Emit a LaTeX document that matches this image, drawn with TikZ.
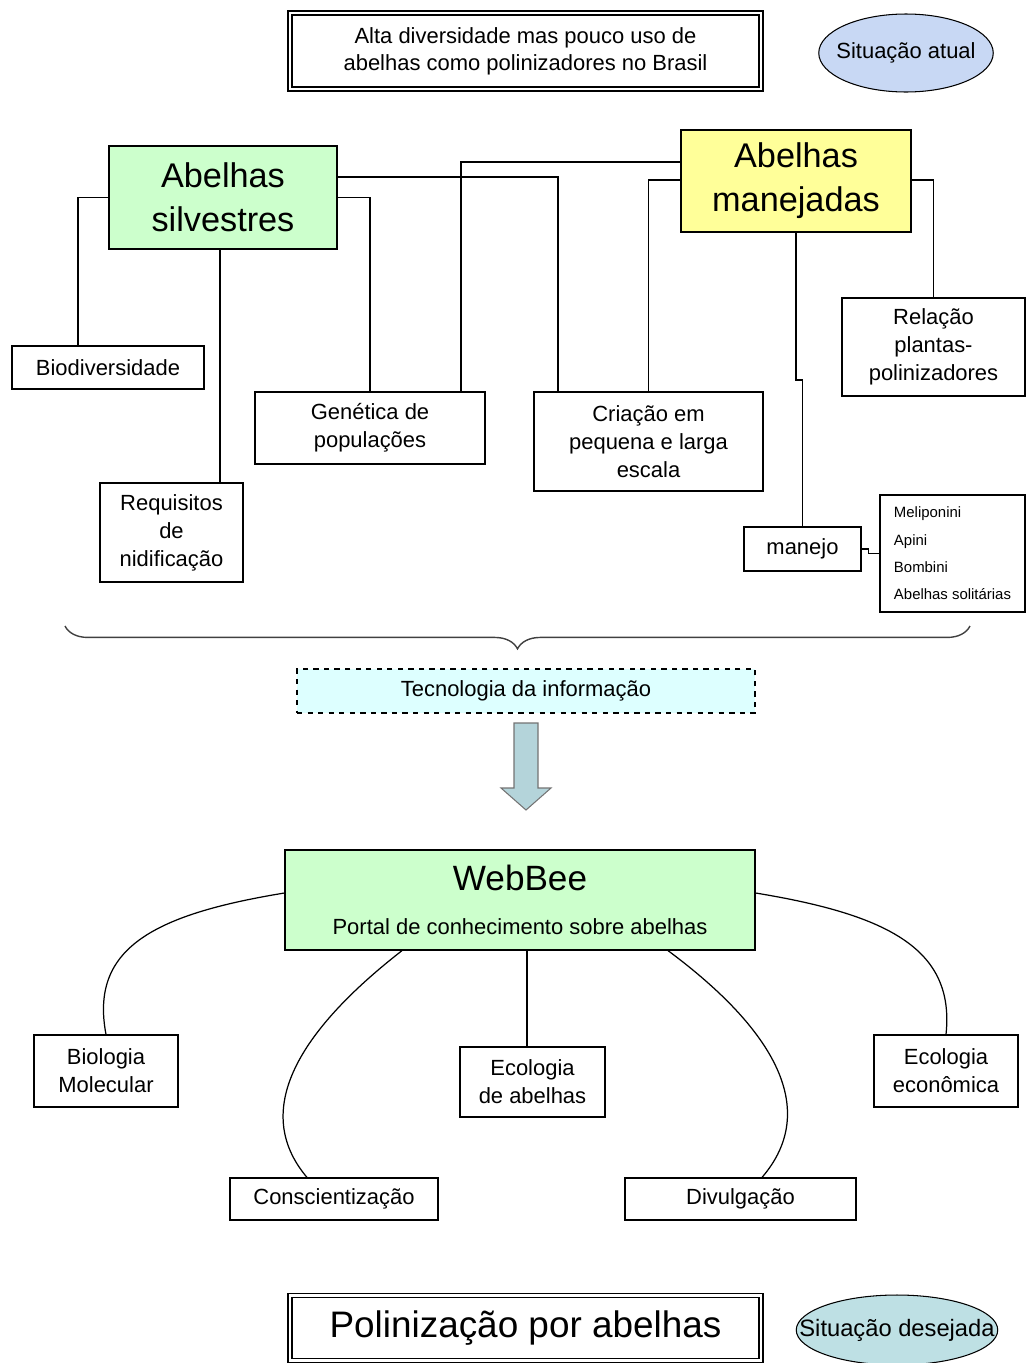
\documentclass[tikz,border=0pt]{standalone}
\usepackage{fontspec}
\setmainfont{Liberation Sans}
\usetikzlibrary{shapes.geometric, decorations.pathreplacing}

\definecolor{wildgreen}{HTML}{CCFFCC}
\definecolor{keptyellow}{HTML}{FFFF99}
\definecolor{techcyan}{HTML}{DDFFFF}
\definecolor{nowblue}{HTML}{C8D8F4}
\definecolor{goalteal}{HTML}{BEE0E4}
\definecolor{arrowteal}{HTML}{B4D4DA}

\begin{document}
\begin{tikzpicture}[x=0.02cm, y=-0.02cm,
  box/.style={draw, line width=0.7pt, fill=white, align=center, inner sep=0pt,
    font=\fontsize{12.5}{16}\selectfont},
  bigbox/.style={box, font=\fontsize{19.5}{25}\selectfont},
  dbox/.style={draw, double, line width=0.9pt, double distance=1.4pt, align=center,
    inner sep=0pt},
  oval/.style={ellipse, draw, line width=0.6pt, inner ysep=0pt,
    font=\fontsize{12.5}{15}\selectfont},
  link/.style={line width=0.7pt}]
  \useasboundingbox (0,0) rectangle (1026,1363);

  % Situation now
  \node[dbox, minimum width=9.42cm, minimum height=1.52cm,
    font=\fontsize{12.5}{15.5}\selectfont] (now) at (525.5,51)
    {Alta diversidade mas pouco uso de\\abelhas como polinizadores no Brasil};
  \node[oval, fill=nowblue, inner xsep=-4.5pt, minimum height=1.56cm] (nowtag) at (906,53)
    {Situação atual};

  % Two groups of bees
  \node[bigbox, fill=wildgreen, minimum width=4.56cm, minimum height=2.06cm] (silv) at (223,197.5)
    {Abelhas\\silvestres};
  \node[bigbox, fill=keptyellow, minimum width=4.6cm, minimum height=2.04cm] (man) at (796,181)
    {Abelhas\\manejadas};

  % Topics
  \node[box, minimum width=3.84cm, minimum height=0.86cm] (bio) at (108,367.5) {Biodiversidade};
  \node[box, minimum width=2.86cm, minimum height=1.98cm] (req) at (171.5,532.5)
    {Requisitos\\de\\nidificação};
  \node[box, minimum width=4.6cm, minimum height=1.44cm] (gen) at (370,428)
    {Genética de\\populações};
  \node[box, minimum width=4.58cm, minimum height=1.98cm] (cri) at (648.5,441.5)
    {Criação em\\pequena e larga\\escala};
  \node[box, minimum width=3.66cm, minimum height=1.96cm] (rel) at (933.5,347)
    {Relação\\plantas-\\polinizadores};
  \node[box, minimum width=2.34cm, minimum height=0.88cm] (manejo) at (802.5,549) {manejo};
  \node[box, minimum width=2.9cm, minimum height=2.34cm, align=left,
    font=\fontsize{8.5}{15.5}\selectfont] (tribes) at (952.5,553.5)
    {Meliponini\\Apini\\Bombini\\Abelhas solitárias};

  % Links from the bee groups
  \draw[link] (silv.west) -| (bio.north -| 78,0);
  \draw[link] (silv.south -| 220,0) -- (req.north -| 220,0);
  \draw[link] (silv.east) -| (gen.north);
  \draw[link] (silv.east |- 0,177) -| (cri.north -| 558,0);
  \draw[link] (man.west |- 0,162) -| (gen.north -| 461,0);
  \draw[link] (man.west |- 0,180) -| (cri.north);
  \draw[link] (man.east |- 0,180) -| (rel.north);
  \draw[link] (man.south) -- (man.south |- 0,380) -| (manejo.north);
  \draw[link] (manejo.east) -- ++(7,0) |- (tribes.west);

  % Brace over everything
  \draw[line width=0.8pt, black!75, decorate,
    decoration={brace, mirror, amplitude=13pt}] (65,626) -- (970,626);

  % Information technology
  \node[box, dashed, fill=techcyan, minimum width=9.16cm, minimum height=0.88cm] (tec) at (526,691)
    {Tecnologia da informação};
  \draw[draw=black!55, fill=arrowteal, line width=0.6pt]
    (514,723) -- (538,723) -- (538,788) -- (551,788) -- (526,810) -- (501,788) -- (514,788) -- cycle;

  % Portal
  \node[box, fill=wildgreen, minimum width=9.4cm, minimum height=2cm] (web) at (520,900)
    {{\fontsize{20}{24}\selectfont WebBee}\\[9pt]Portal de conhecimento sobre abelhas};

  \node[box, minimum width=2.88cm, minimum height=1.44cm] (bm) at (106,1071)
    {Biologia\\Molecular};
  \node[box, minimum width=2.9cm, minimum height=1.4cm] (eab) at (532.5,1082)
    {Ecologia\\de abelhas};
  \node[box, minimum width=2.88cm, minimum height=1.44cm] (eec) at (946,1071)
    {Ecologia\\econômica};
  \node[box, minimum width=4.16cm, minimum height=0.84cm] (con) at (334,1199) {Conscientização};
  \node[box, minimum width=4.62cm, minimum height=0.84cm] (div) at (740.5,1199) {Divulgação};

  \draw[link] (web.west |- 0,893) .. controls (150,915) and (90,950) .. (bm.north);
  \draw[link] (web.east |- 0,893) .. controls (890,915) and (955,950) .. (eec.north);
  \draw[link] (web.south -| 402,0) .. controls (300,1030) and (250,1110) .. (con.north -| 307,0);
  \draw[link] (web.south -| 668,0) .. controls (775,1030) and (820,1110) .. (div.north -| 762,0);
  \draw[link] (web.south -| 527,0) -- (eab.north -| 527,0);

  % Situation wanted
  \node[dbox, minimum width=9.42cm, minimum height=1.3cm,
    font=\fontsize{21}{25}\selectfont] (goal) at (525.5,1328) {Polinização por abelhas};
  \node[oval, fill=goalteal, inner xsep=-15pt, minimum height=1.4cm,
    font=\fontsize{13.5}{16}\selectfont] (goaltag) at (897,1330)
    {Situação desejada};
\end{tikzpicture}
\end{document}
